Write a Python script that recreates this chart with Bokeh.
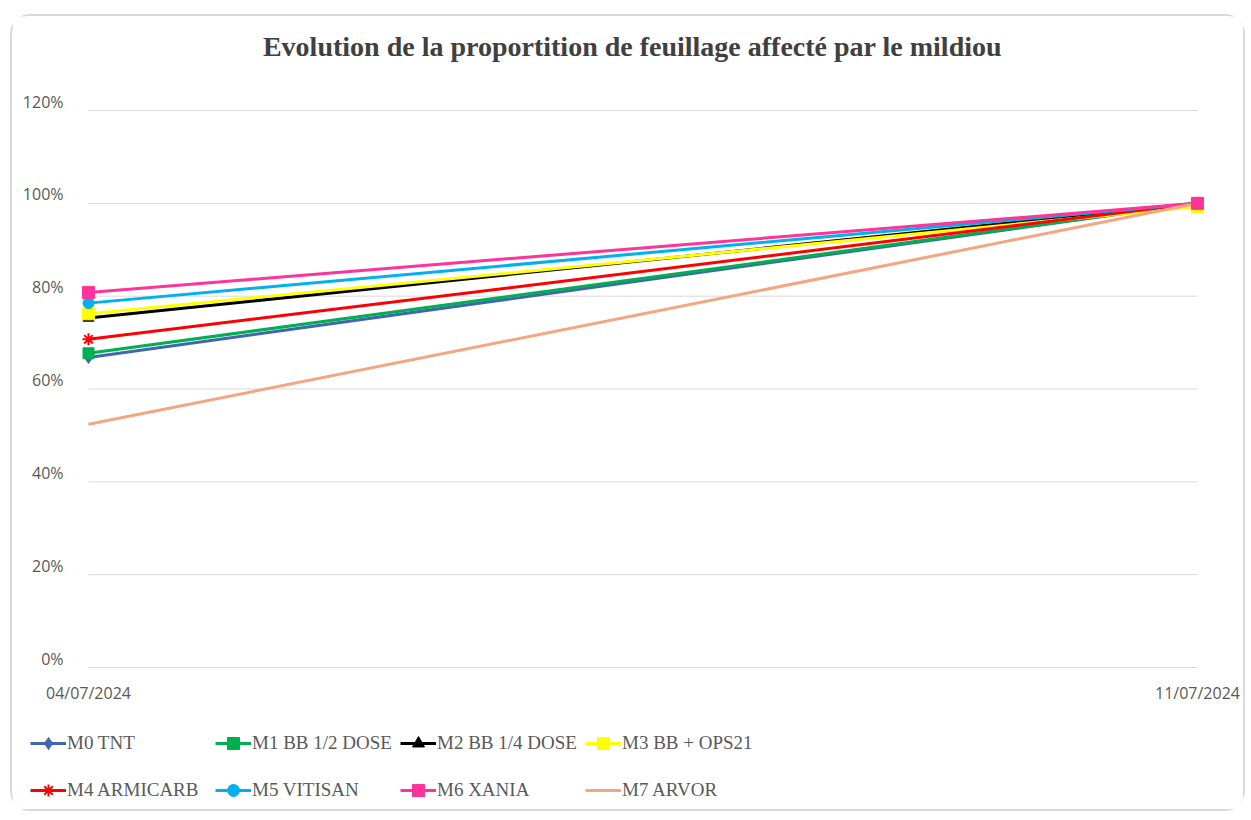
from bokeh.plotting import figure
from bokeh.models import Range1d, Legend, LegendItem, Label
from bokeh.core.properties import value
from bokeh.embed import file_html
from bokeh.resources import INLINE

# ---------------- data ----------------
title_text = "Evolution de la proportition de feuillage affecté par le mildiou"
dates = ["04/07/2024", "11/07/2024"]
series_names = ["M0 TNT", "M1 BB 1/2 DOSE", "M2 BB 1/4 DOSE", "M3 BB + OPS21",
                "M4 ARMICARB", "M5 VITISAN", "M6 XANIA", "M7 ARVOR"]
m0_tnt = [0.668, 1.000]
m1_bb_half = [0.677, 1.000]
m2_bb_quarter = [0.753, 1.000]
m3_bb_ops21 = [0.762, 0.993]
m4_armicarb = [0.707, 1.000]
m5_vitisan = [0.785, 1.000]
m6_xania = [0.808, 1.000]
m7_arvor = [0.524, 1.000]
y_ticks = [0.0, 0.2, 0.4, 0.6, 0.8, 1.0, 1.2]
y_tick_labels = ["0%", "20%", "40%", "60%", "80%", "100%", "120%"]

series_values = [m0_tnt, m1_bb_half, m2_bb_quarter, m3_bb_ops21,
                 m4_armicarb, m5_vitisan, m6_xania, m7_arvor]

# ---------------- styles ----------------
colors = ["#3F67B1", "#00B050", "#000000", "#FFFF00",
          "#FF0000", "#00B0F0", "#FF3399", "#F4A582"]
markers = ["diamond", "square", "triangle", "square",
           "asterisk", "circle", "square", None]
marker_sizes = [12, 11, 11, 12, 12, 11, 12, 0]

# ---------------- layout (page pixels) ----------------
OX, OY = 12, 16        # canvas origin on page (inside a 2px border)
W, H = 1235, 797
FRAME_L, FRAME_R, FRAME_T, FRAME_B = 20, 1240, OY, 813
X0_PX, X1_PX = 88, 1197       # first / last category position
Y0_PX, YTOP_PX = 667, 110     # 0% and 120% gridlines
TITLE_X_PX, TITLE_Y_PX = 632, 46

x_ppu = (X1_PX - X0_PX) / (len(dates) - 1)
y_ppu = (Y0_PX - YTOP_PX) / y_ticks[-1]

cat_x = list(range(len(dates)))

p = figure(width=W, height=H, output_backend="svg", toolbar_location=None,
           x_axis_type=None, y_axis_type=None,
           min_border_left=FRAME_L - OX,
           min_border_right=OX + W - FRAME_R,
           min_border_top=FRAME_T - OY,
           min_border_bottom=OY + H - FRAME_B)
p.title.visible = False
p.x_range = Range1d((FRAME_L - X0_PX) / x_ppu, (FRAME_R - X0_PX) / x_ppu)
p.y_range = Range1d(-(FRAME_B - Y0_PX) / y_ppu, (Y0_PX - FRAME_T) / y_ppu)
p.outline_line_color = None
p.background_fill_color = "white"
p.border_fill_color = "white"
p.styles = {"border": "2px solid #d9d9d9", "border-radius": "20px",
            "margin-left": f"{OX - 2}px", "margin-top": f"{OY - 2}px"}

# title
p.add_layout(Label(x=(TITLE_X_PX - X0_PX) / x_ppu, y=(Y0_PX - TITLE_Y_PX) / y_ppu,
                   text=title_text, text_align="center", text_baseline="middle",
                   text_font="Liberation Serif", text_font_style="bold",
                   text_font_size="28px", text_color="#404040"))

# gridlines (from tick list, spanning the category extent)
p.segment(x0=[cat_x[0]] * len(y_ticks), x1=[cat_x[-1]] * len(y_ticks),
          y0=y_ticks, y1=y_ticks, line_color="#d9d9d9", line_width=1)

# y tick labels
p.text(x=[cat_x[0]] * len(y_ticks), y=y_ticks, text=y_tick_labels,
       x_offset=-25, y_offset=-9, text_align="right", text_baseline="middle",
       text_font=value("Open Sans"), text_font_size="16px", text_color="#595959")

# category labels
p.text(x=cat_x, y=[y_ticks[0]] * len(dates), text=dates,
       y_offset=25, text_align="center", text_baseline="middle",
       text_font=value("Open Sans"), text_font_size="16px", text_color="#595959")

# series
line_renderers = []
for name, vals, col in zip(series_names, series_values, colors):
    r = p.line(cat_x, vals, line_color=col, line_width=3)
    line_renderers.append(r)

marker_renderers = []
for vals, col, mk, sz in zip(series_values, colors, markers, marker_sizes):
    if mk is None:
        marker_renderers.append(None)
        continue
    lw = 2 if mk == "asterisk" else 1
    r = p.scatter(cat_x, vals, marker=mk, size=sz, fill_color=col,
                  line_color=col, line_width=lw)
    marker_renderers.append(r)

items = []
for name, lr, mr in zip(series_names, line_renderers, marker_renderers):
    rs = [lr] + ([mr] if mr is not None else [])
    items.append(LegendItem(label=name, renderers=rs))

legend = Legend(items=items, orientation="horizontal", ncols=4,
                location=(10, 1), padding=0, margin=0, spacing=2,
                glyph_width=36, glyph_height=30, label_standoff=1,
                label_width=146, label_height=45,
                label_text_font="Liberation Serif", label_text_font_size="19px",
                label_text_color="#595959",
                border_line_color=None, background_fill_alpha=0)
p.add_layout(legend, "center")

open("out.html", "w").write(file_html(p, INLINE))
